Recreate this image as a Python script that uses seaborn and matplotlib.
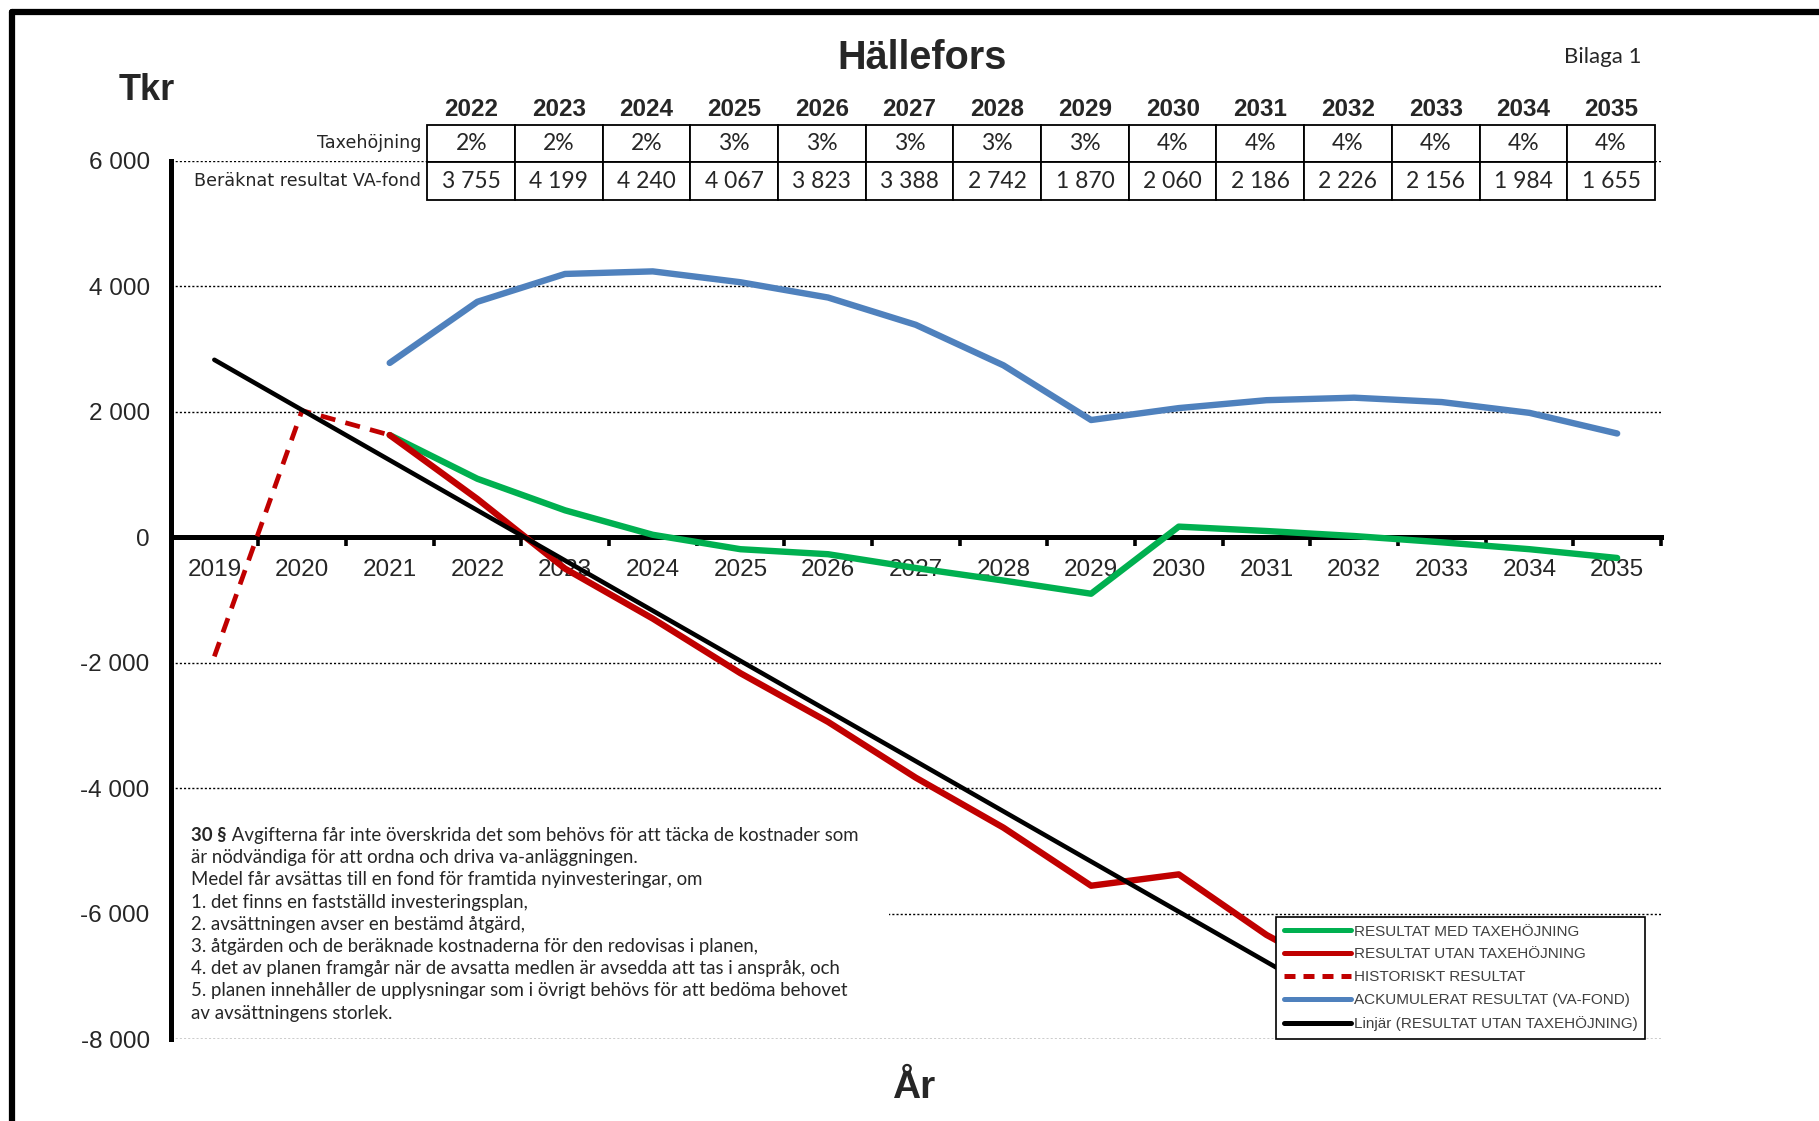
import numpy as np
import matplotlib.pyplot as plt
import seaborn as sns
from matplotlib.lines import Line2D
from matplotlib.patches import Rectangle
from matplotlib.ticker import FuncFormatter, FixedLocator
from matplotlib.transforms import blended_transform_factory

nan = np.nan

# --- data -----------------------------------------------------------------
years = [str(y) for y in range(2019, 2036)]

med_taxehojning = [nan, nan, 1630, 933, 430, 40, -190, -270, -490, -690,
                   -900, 170, 100, 20, -80, -190, -330]
utan_taxehojning = [nan, nan, 1630, 611, -500, -1296, -2167, -2944, -3833,
                    -4630, -5556, -5375, -6340, -7100, nan, nan, nan]
historiskt = [-1900, 2020, 1630, nan, nan, nan, nan, nan, nan, nan, nan,
              nan, nan, nan, nan, nan, nan]
va_fond = [nan, nan, 2780, 3755, 4199, 4240, 4067, 3823, 3388, 2742, 1870,
           2060, 2186, 2226, 2156, 1984, 1655]
linjar = [2830, 2030, 1230, 430, -370, -1170, -1970, -2770, -3570, -4370,
          -5170, -5970, -6770, -7570, nan, nan, nan]

table_years = years[3:]
taxehojning = ["2%", "2%", "2%", "3%", "3%", "3%", "3%", "3%",
               "4%", "4%", "4%", "4%", "4%", "4%"]
beraknat = va_fond[3:]

note_lines = [
    "är nödvändiga för att ordna och driva va-anläggningen.",
    "Medel får avsättas till en fond för framtida nyinvesteringar, om",
    "1. det finns en fastställd investeringsplan,",
    "2. avsättningen avser en bestämd åtgärd,",
    "3. åtgärden och de beräknade kostnaderna för den redovisas i planen,",
    "4. det av planen framgår när de avsatta medlen är avsedda att tas i anspråk, och",
    "5. planen innehåller de upplysningar som i övrigt behövs för att bedöma behovet",
    "av avsättningens storlek.",
]

GREEN = "#00B050"
RED = "#C00000"
BLUE = "#4F81BD"
NOTE_FONT = ["Lato", "DejaVu Sans"]


def fmt(v):
    return f"{v:,.0f}".replace(",", " ")


sns.set_style("white")
plt.rcParams["font.family"] = ["Liberation Sans", "DejaVu Sans"]

W, H = 1819, 1121
fig = plt.figure(figsize=(W / 100, H / 100), dpi=100)
ax = fig.add_axes([170.5 / W, 1 - 1039 / H, (1661 - 170.5) / W, (1039 - 161) / H])

pos = np.arange(len(years))

sns.lineplot(x=pos, y=med_taxehojning, ax=ax, color=GREEN, lw=4.6, zorder=4)
sns.lineplot(x=pos, y=utan_taxehojning, ax=ax, color=RED, lw=4.6, zorder=4)
sns.lineplot(x=pos, y=historiskt, ax=ax, color=RED, lw=3.4,
             linestyle=(0, (3.2, 2.2)), zorder=4)
sns.lineplot(x=pos, y=va_fond, ax=ax, color=BLUE, lw=4.6, zorder=4)
sns.lineplot(x=pos, y=linjar, ax=ax, color="black", lw=3.3, zorder=4)

ax.set_xlim(-0.5, len(years) - 0.5)
ax.set_ylim(-8000, 6000)
ax.set_xlabel("")
ax.set_ylabel("")

# axes styling
for s in ["top", "right"]:
    ax.spines[s].set_visible(False)
ax.spines["left"].set_linewidth(3.6)
ax.spines["left"].set_color("black")
ax.spines["bottom"].set_position(("data", 0))
ax.spines["bottom"].set_linewidth(3.6)
ax.spines["bottom"].set_color("black")
ax.spines["bottom"].set_zorder(3)

ax.set_xticks(pos)
ax.set_xticklabels(years)
ax.xaxis.set_minor_locator(FixedLocator(np.arange(-0.5, len(years), 1)))
ax.tick_params(axis="x", which="major", length=0, pad=15.5, labelsize=17.5)
ax.tick_params(axis="x", which="minor", length=6.5, width=2.6,
               direction="out", color="black", bottom=True)
ax.set_yticks(np.arange(-8000, 6001, 2000))
ax.yaxis.set_major_formatter(FuncFormatter(lambda v, _: fmt(v)))
ax.tick_params(axis="y", length=0, pad=15, labelsize=17.5)

ax.grid(axis="y", color="black", lw=1.0, ls=(0, (1.5, 1.5)))
ax.grid(axis="x", visible=False)
ax.set_axisbelow(True)

# note box covering the plot area
ax.add_patch(Rectangle((-0.5, -7900), 8.2, 3600, facecolor="white",
                       edgecolor="none", zorder=2.5))
base = 841
first = fig.text(191 / W, 1 - base / H, "30 §", fontsize=13.4, fontweight="bold",
                 family=NOTE_FONT, va="baseline", ha="left")
ax.annotate(" Avgifterna får inte överskrida det som behövs för att täcka de kostnader som",
            xy=(1, 0), xycoords=first, va="bottom", ha="left", fontsize=13.4,
            family=NOTE_FONT, annotation_clip=False)
for i, line in enumerate(note_lines):
    fig.text(191 / W, 1 - (base + 22.2 * (i + 1)) / H, line, fontsize=13.4,
             family=NOTE_FONT, va="baseline", ha="left")

# table
tr = blended_transform_factory(ax.transData, fig.transFigure)
row_top = [1 - 125 / H, 1 - 162 / H]
row_bot = [1 - 162 / H, 1 - 200 / H]
shift = -0.07
for j, yr in enumerate(table_years):
    xc = 3 + j + shift
    ax.text(xc, 1 - 110 / H, yr, transform=tr, ha="center", va="center",
            fontsize=17.5, fontweight="bold", zorder=6)
    for r, txt in enumerate([taxehojning[j], fmt(beraknat[j])]):
        ax.add_patch(Rectangle((xc - 0.5, row_bot[r]), 1, row_top[r] - row_bot[r],
                               transform=tr, facecolor="white", edgecolor="black",
                               lw=1.3, zorder=5, clip_on=False))
        ax.text(xc, (row_top[r] + row_bot[r]) / 2, txt, transform=tr,
                ha="center", va="center", fontsize=16.5, zorder=6,
                family=NOTE_FONT)
for r, lab in enumerate(["Taxehöjning", "Beräknat resultat VA-fond"]):
    fig.text(421 / W, (row_top[r] + row_bot[r]) / 2, lab, ha="right", va="center",
             fontsize=12.6, family=["DejaVu Sans"])

# legend
handles = [
    Line2D([], [], color=GREEN, lw=3.6),
    Line2D([], [], color=RED, lw=3.6),
    Line2D([], [], color=RED, lw=3.6, ls=(0, (2.2, 1.6))),
    Line2D([], [], color=BLUE, lw=3.6),
    Line2D([], [], color="black", lw=3.6),
]
labels = ["RESULTAT MED TAXEHÖJNING", "RESULTAT UTAN TAXEHÖJNING",
          "HISTORISKT RESULTAT", "ACKUMULERAT RESULTAT (VA-FOND)",
          "Linjär (RESULTAT UTAN TAXEHÖJNING)"]
leg = ax.legend(handles, labels, loc="upper left",
                bbox_to_anchor=(1276 / W, 1 - 917 / H), bbox_transform=fig.transFigure,
                borderaxespad=0, frameon=True, fancybox=False, framealpha=1,
                edgecolor="black", fontsize=11, handlelength=4.4,
                handletextpad=0.2, labelspacing=0.58, borderpad=0.5)
leg.get_frame().set_linewidth(1.2)
leg.set_zorder(7)
for t in leg.get_texts():
    t.set_color("#404040")

# titles and labels
fig.text(922 / W, 1 - 58 / H, "Hällefors", ha="center", va="center",
         fontsize=28.5, fontweight="bold")
fig.text(1603 / W, 1 - 57 / H, "Bilaga 1", ha="center", va="center",
         fontsize=16, family=NOTE_FONT)
fig.text(147 / W, 1 - 91 / H, "Tkr", ha="center", va="center",
         fontsize=26, fontweight="bold")
fig.text(915 / W, 1 - 1088 / H, "År", ha="center", va="center",
         fontsize=28, fontweight="bold")

# outer frame (top and left edges visible)
fig.add_artist(Line2D([12 / W, 1], [1 - 12 / H, 1 - 12 / H], color="black",
                      lw=4.5, transform=fig.transFigure))
fig.add_artist(Line2D([12 / W, 12 / W], [0, 1 - 12 / H], color="black",
                      lw=4.5, transform=fig.transFigure))

fig.savefig("out.png", dpi=100, facecolor="white")
